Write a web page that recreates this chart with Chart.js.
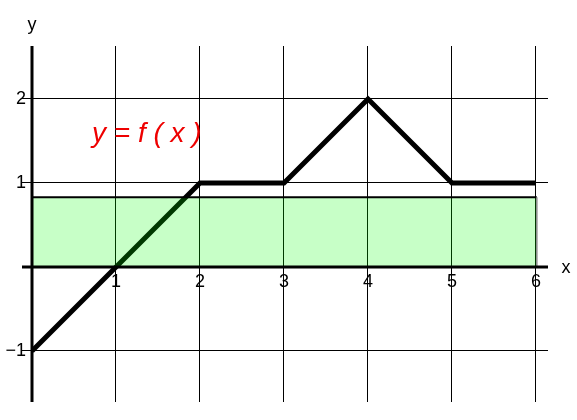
<!DOCTYPE html>
<html>
<head>
<meta charset="utf-8">
<script src="https://cdn.jsdelivr.net/npm/chart.js@4"></script>
<style>
  html, body { margin: 0; padding: 0; background: #fff; }
  #wrap { width: 577px; height: 420px; }
</style>
</head>
<body>
<div id="wrap"><canvas id="chart"></canvas></div>
<script>
// function f(x), piecewise linear
const fx = [0, 1, 2, 3, 4, 5, 6];
const fy = [-1, 0, 1, 1, 2, 1, 1];

// shaded band
const bandX = [0, 6.01, 6.01];
const bandY = [0.83, 0.83, 0];

// axes
const xTicks = [0, 1, 2, 3, 4, 5, 6];
const yTicks = [-1, 0, 1, 2];
const xTickLabels = ['', '1', '2', '3', '4', '5', '6'];
const yTickLabels = ['\u22121', '', '1', '2'];
const xRange = [0, 6.143];
const yRange = [-1.607, 2.63];

const labelFont = '18px "Liberation Sans", Arial, sans-serif';

// thick axes lines through the origin, drawn over the band
const axesPlugin = {
  id: 'axes',
  afterDatasetsDraw(chart) {
    const ctx = chart.ctx;
    const a = chart.chartArea;
    const x0 = chart.scales.x.getPixelForValue(0);
    const y0 = chart.scales.y.getPixelForValue(0);
    ctx.save();
    ctx.strokeStyle = '#000';
    ctx.lineWidth = 3;
    ctx.beginPath();
    ctx.moveTo(a.left - 10, y0);
    ctx.lineTo(a.right, y0);
    ctx.moveTo(x0, a.top);
    ctx.lineTo(x0, a.bottom);
    ctx.stroke();
    ctx.restore();
  }
};

// tick labels, axis names and the f(x) label
const labelsPlugin = {
  id: 'labels',
  afterDraw(chart) {
    const ctx = chart.ctx;
    const xs = chart.scales.x, ys = chart.scales.y;
    const x0 = xs.getPixelForValue(0), y0 = ys.getPixelForValue(0);
    ctx.save();
    ctx.fillStyle = '#000';
    ctx.font = labelFont;
    ctx.textAlign = 'center';
    ctx.textBaseline = 'middle';
    xTicks.forEach((v, i) => {
      if (xTickLabels[i]) ctx.fillText(xTickLabels[i], xs.getPixelForValue(v), y0 + 15);
    });
    ctx.textAlign = 'right';
    yTicks.forEach((v, i) => {
      if (yTickLabels[i]) ctx.fillText(yTickLabels[i], x0 - 6, ys.getPixelForValue(v));
    });
    ctx.textAlign = 'center';
    ctx.fillText('x', 566, y0 + 1);
    ctx.fillText('y', x0, 25);

    ctx.fillStyle = '#ee0000';
    ctx.font = 'italic 28px "Liberation Sans", Arial, sans-serif';
    ctx.textAlign = 'left';
    ctx.textBaseline = 'alphabetic';
    ctx.fillText('y = f ( x )', 92, 142);
    ctx.restore();
  }
};

new Chart(document.getElementById('chart'), {
  type: 'scatter',
  data: {
    datasets: [
      {
        data: bandX.map((x, i) => ({ x: x, y: bandY[i] })),
        showLine: true,
        fill: 'origin',
        backgroundColor: 'rgba(0, 255, 0, 0.22)',
        borderWidth: 2,
        borderColor: '#000',
        segment: {
          borderColor: c => (c.p0DataIndex === 1 ? '#888' : '#000'),
          borderWidth: c => (c.p0DataIndex === 1 ? 1.5 : 2)
        },
        pointRadius: 0,
        order: 1
      },
      {
        data: fx.map((x, i) => ({ x: x, y: fy[i] })),
        showLine: true,
        borderColor: '#000',
        borderWidth: 5,
        borderJoinStyle: 'miter',
        pointRadius: 0,
        fill: false,
        order: 2
      }
    ]
  },
  options: {
    responsive: true,
    maintainAspectRatio: false,
    animation: false,
    layout: { padding: { left: 22, right: 29, top: 46, bottom: 0 } },
    plugins: { legend: { display: false }, tooltip: { enabled: false } },
    scales: {
      x: {
        type: 'linear',
        min: xRange[0],
        max: xRange[1],
        afterBuildTicks: s => { s.ticks = xTicks.map(v => ({ value: v })); },
        afterFit: s => { s.height = 18; },
        ticks: { display: false },
        border: { display: false },
        grid: { color: '#000', lineWidth: 1, drawTicks: false, tickLength: 0 }
      },
      y: {
        type: 'linear',
        min: yRange[0],
        max: yRange[1],
        afterBuildTicks: s => { s.ticks = yTicks.map(v => ({ value: v })); },
        afterFit: s => { s.width = 10; },
        ticks: { display: false },
        border: { display: false },
        grid: { color: '#000', lineWidth: 1, drawTicks: true, tickLength: 10 }
      }
    }
  },
  plugins: [axesPlugin, labelsPlugin]
});
</script>
</body>
</html>
